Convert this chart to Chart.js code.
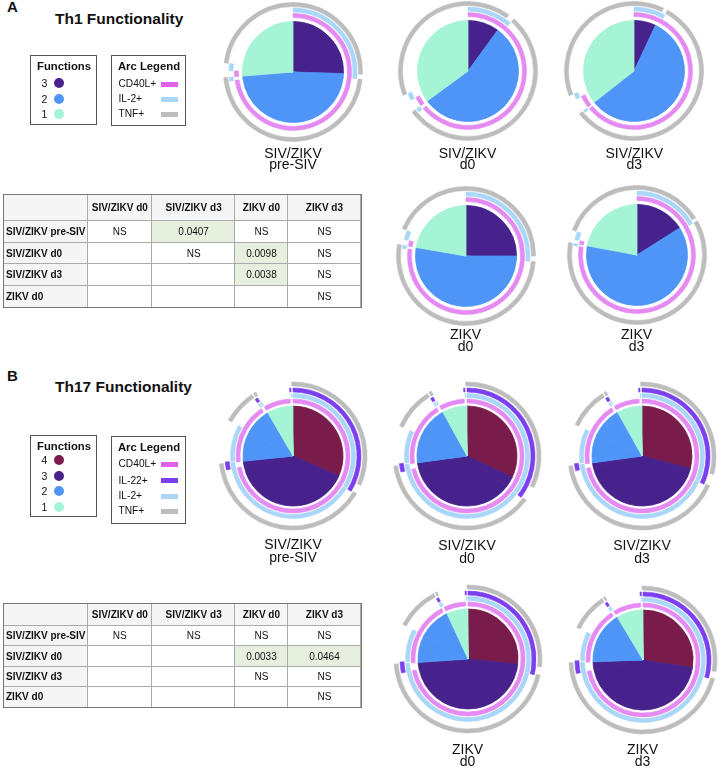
<!DOCTYPE html>
<html>
<head>
<meta charset="utf-8">
<script src="https://cdn.jsdelivr.net/npm/chart.js@4.4.1/dist/chart.umd.min.js"></script>
<style>
  body { margin: 0; background: #fff; }
  #page { position: relative; width: 720px; height: 768px; overflow: hidden; font-family: "Liberation Sans", Arial, sans-serif; color: #111; }
  #page div, #page canvas { position: absolute; box-sizing: border-box; }
</style>
</head>
<body>
<div id="page"></div>
<script>
// ---- data ----
var th1Markers = ['CD40L+', 'IL-2+', 'TNF+'];
var th1Combos = ['CD40L+IL-2+TNF+', 'CD40L+IL-2+', 'CD40L+TNF+', 'IL-2+TNF+', 'CD40L+', 'IL-2+', 'TNF+'];
var th1SivPre = [25.5, 1.2, 46.0, 1.0, 1.6, 1.8, 22.9];
var th1SivD0 = [10.0, 1.5, 52.4, 1.0, 2.6, 1.8, 30.7];
var th1SivD3 = [7.0, 1.0, 55.8, 0.6, 3.4, 1.4, 30.8];
var th1ZikvD0 = [25.0, 1.3, 50.6, 0.8, 1.5, 2.3, 18.5];
var th1ZikvD3 = [16.0, 0.8, 60.5, 0.6, 1.0, 2.0, 19.1];

var th17Markers = ['CD40L+', 'IL-22+', 'IL-2+', 'TNF+'];
var th17Combos = ['CD40L+IL-22+IL-2+TNF+',
  'CD40L+IL-22+IL-2+', 'CD40L+IL-22+TNF+', 'CD40L+IL-2+TNF+', 'IL-22+IL-2+TNF+',
  'CD40L+IL-22+', 'CD40L+IL-2+', 'CD40L+TNF+', 'IL-22+IL-2+', 'IL-22+TNF+', 'IL-2+TNF+',
  'CD40L+', 'IL-22+', 'IL-2+', 'TNF+'];
var th17SivPre = [31.5, 2.0, 0.2, 38.0, 1.6, 0.3, 9.5, 7.5, 0.4, 0.3, 0.3, 7.6, 0.3, 0.2, 0.3];
var th17SivD0 = [32.0, 3.2, 0.2, 35.8, 1.6, 0.4, 8.5, 9.3, 0.4, 0.3, 0.3, 7.2, 0.3, 0.2, 0.3];
var th17SivD3 = [29.0, 2.6, 0.2, 39.7, 1.3, 0.4, 8.8, 9.0, 0.4, 0.3, 0.2, 7.3, 0.3, 0.2, 0.3];
var th17ZikvD0 = [26.7, 1.8, 0.2, 43.0, 2.2, 0.4, 8.5, 9.5, 0.4, 0.2, 0.2, 6.2, 0.3, 0.2, 0.2];
var th17ZikvD3 = [27.5, 1.6, 0.2, 42.5, 2.6, 0.4, 7.5, 8.3, 0.4, 0.2, 0.2, 7.9, 0.3, 0.2, 0.2];

var sampleNames = [['SIV/ZIKV', 'pre-SIV'], ['SIV/ZIKV', 'd0'], ['SIV/ZIKV', 'd3'], ['ZIKV', 'd0'], ['ZIKV', 'd3']];

var tableCols = ['SIV/ZIKV d0', 'SIV/ZIKV d3', 'ZIKV d0', 'ZIKV d3'];
var tableRows = ['SIV/ZIKV pre-SIV', 'SIV/ZIKV d0', 'SIV/ZIKV d3', 'ZIKV d0'];
var th1PValues = [['NS', '0.0407', 'NS', 'NS'], ['', 'NS', '0.0098', 'NS'], ['', '', '0.0038', 'NS'], ['', '', '', 'NS']];
var th17PValues = [['NS', 'NS', 'NS', 'NS'], ['', '', '0.0033', '0.0464'], ['', '', 'NS', 'NS'], ['', '', '', 'NS']];

// ---- styles ----
var fnColors = {4: '#7a1c4b', 3: '#47218c', 2: '#4f95f8', 1: '#a6f4d6'};
var ringColors = {'CD40L+': '#e48af2', 'IL-22+': '#7b3ff0', 'IL-2+': '#a9d6f9', 'TNF+': '#bdbdbd'};
var swatchColors = {'CD40L+': '#e162ea', 'IL-22+': '#7b3ff0', 'IL-2+': '#a9d6f9', 'TNF+': '#bdbdbd'};
var CLEAR = 'rgba(0,0,0,0)';
var page = document.getElementById('page');

function el(tag, css, text) {
  var e = document.createElement(tag);
  e.style.cssText = css;
  if (text != null) e.textContent = text;
  page.appendChild(e);
  return e;
}

function textAt(txt, x, y, font, align) {
  var h = 16;
  if (align === 'left') {
    return el('div', 'left:' + x + 'px;top:' + (y - h / 2) + 'px;white-space:nowrap;font:' + font + ';line-height:' + h + 'px;height:' + h + 'px', txt);
  }
  return el('div', 'left:' + (x - 100) + 'px;top:' + (y - h / 2) + 'px;width:200px;text-align:center;white-space:nowrap;font:' + font + ';line-height:' + h + 'px;height:' + h + 'px', txt);
}

function tokens(combo) {
  return combo.match(/[^+]+\+/g);
}

function ringDataset(values, combos, marker, weight) {
  var colors = combos.map(function(c) {
    return tokens(c).indexOf(marker) >= 0 ? ringColors[marker] : CLEAR;
  });
  return {data: values, backgroundColor: colors, borderColor: colors, borderWidth: 0.6, weight: weight};
}

function spacer(weight) {
  return {data: [1], backgroundColor: [CLEAR], borderColor: [CLEAR], borderWidth: 0, weight: weight};
}

function drawPie(values, combos, geo, cx, cy) {
  var size = 170;
  var canvas = el('canvas', 'left:' + (cx - size / 2) + 'px;top:' + (cy - size / 2) + 'px');
  canvas.width = size;
  canvas.height = size;
  var datasets = [];
  // doughnut datasets go from the outside in
  geo.rings.forEach(function(m, i) {
    datasets.push(ringDataset(values, combos, m, geo.ringWidth));
    datasets.push(spacer(geo.gaps[i]));
  });
  var pieColors = combos.map(function(c) { return fnColors[tokens(c).length]; });
  datasets.push({data: values, backgroundColor: pieColors, borderColor: pieColors, borderWidth: 0.8, weight: geo.pie});
  new Chart(canvas, {
    type: 'doughnut',
    data: {labels: combos, datasets: datasets},
    options: {
      responsive: false,
      animation: false,
      events: [],
      cutout: 0,
      radius: geo.radius,
      plugins: {legend: {display: false}, tooltip: {enabled: false}}
    }
  });
}

function caption(lines, cx, y1, y2) {
  textAt(lines[0], cx, y1, '14px "Liberation Sans", Arial, sans-serif');
  textAt(lines[1], cx, y2, '14px "Liberation Sans", Arial, sans-serif');
}

function functionsLegend(levels, left, top, height, rowYs) {
  el('div', 'left:' + left + 'px;top:' + top + 'px;width:67px;height:' + height + 'px;border:1.5px solid #555');
  textAt('Functions', left + 34, top + 11, 'bold 11.3px "Liberation Sans", Arial, sans-serif');
  levels.forEach(function(lv, i) {
    textAt(String(lv), left + 14.3, rowYs[i], '10.5px "Liberation Sans", Arial, sans-serif');
    el('div', 'left:' + (left + 24) + 'px;top:' + (rowYs[i] - 5) + 'px;width:10px;height:10px;border-radius:5px;background:' + fnColors[lv]);
  });
}

function arcLegend(markers, left, top, height, rowYs) {
  el('div', 'left:' + left + 'px;top:' + top + 'px;width:75px;height:' + height + 'px;border:1.5px solid #555');
  textAt('Arc Legend', left + 38, top + 11, 'bold 11.3px "Liberation Sans", Arial, sans-serif');
  markers.forEach(function(m, i) {
    textAt(m, left + 7.5, rowYs[i], '10.2px "Liberation Sans", Arial, sans-serif', 'left');
    el('div', 'left:' + (left + 50) + 'px;top:' + (rowYs[i] - 2.5) + 'px;width:17px;height:5px;background:' + swatchColors[m]);
  });
}

function pTable(left, top, headerH, rowH, pvals) {
  var widths = [84.6, 64.4, 83.3, 52.3, 73.7];
  var total = widths.reduce(function(a, b) { return a + b; }, 0);
  var font = '10px "Liberation Sans", Arial, sans-serif';
  var bold = 'bold ' + font;
  var x = left;
  var xs = widths.map(function(w) { var v = x; x += w; return v; });
  // header row
  for (var c = 0; c < 5; c++) {
    el('div', 'left:' + xs[c] + 'px;top:' + top + 'px;width:' + widths[c] + 'px;height:' + headerH + 'px;background:#f5f5f5;border-right:1px solid #aaa;border-bottom:1px solid #aaa');
    if (c > 0) textAt(tableCols[c - 1], xs[c] + widths[c] / 2, top + headerH / 2, bold);
  }
  for (var r = 0; r < 4; r++) {
    var y = top + headerH + r * rowH;
    el('div', 'left:' + xs[0] + 'px;top:' + y + 'px;width:' + widths[0] + 'px;height:' + rowH + 'px;background:#f5f5f5;border-right:1px solid #aaa;border-bottom:1px solid #aaa');
    textAt(tableRows[r], xs[0] + 3, y + rowH / 2, bold, 'left');
    for (var k = 0; k < 4; k++) {
      var v = pvals[r][k];
      var sig = v !== '' && v !== 'NS' && parseFloat(v) < 0.05;
      el('div', 'left:' + xs[k + 1] + 'px;top:' + y + 'px;width:' + widths[k + 1] + 'px;height:' + rowH + 'px;background:' + (sig ? '#e7f0de' : '#fff') + ';border-right:1px solid #aaa;border-bottom:1px solid #aaa');
      if (v) textAt(v, xs[k + 1] + widths[k + 1] / 2, y + rowH / 2, font);
    }
  }
  el('div', 'left:' + (left - 0.5) + 'px;top:' + (top - 0.5) + 'px;width:' + (total + 1) + 'px;height:' + (headerH + 4 * rowH + 1) + 'px;border:1.5px solid #777');
}

// ---- panel A: Th1 ----
var th1Geo = {radius: 69.5, rings: ['TNF+', 'IL-2+', 'CD40L+'], ringWidth: 4, gaps: [1.5, 1.5, 4], pie: 50.5};
var th1Data = [th1SivPre, th1SivD0, th1SivD3, th1ZikvD0, th1ZikvD3];
var th1Centers = [[293, 71.5], [467.5, 71], [634.3, 71], [465.5, 255.5], [636.5, 254.5]];
var th1CapY = [[152.5, 164], [152.5, 164], [152.5, 164], [334, 345.7], [334, 345.7]];
th1Data.forEach(function(vals, i) {
  drawPie(vals, th1Combos, th1Geo, th1Centers[i][0], th1Centers[i][1]);
  caption(sampleNames[i], th1Centers[i][0], th1CapY[i][0], th1CapY[i][1]);
});

textAt('A', 7, 7, 'bold 15px "Liberation Sans", Arial, sans-serif', 'left');
textAt('Th1 Functionality', 55, 18.5, 'bold 15.5px "Liberation Sans", Arial, sans-serif', 'left');
functionsLegend([3, 2, 1], 30, 55, 70, [82.7, 98.7, 114]);
arcLegend(th1Markers, 111, 55, 71, [84, 99, 114]);
pTable(3, 194, 27, 21.7, th1PValues);

// ---- panel B: Th17 ----
var th17Geo = {radius: 74, rings: ['TNF+', 'IL-22+', 'IL-2+', 'CD40L+'], ringWidth: 4, gaps: [2, 1.5, 1.5, 3], pie: 50};
var th17Data = [th17SivPre, th17SivD0, th17SivD3, th17ZikvD0, th17ZikvD3];
var th17Centers = [[293, 456], [467, 456], [642, 456], [467.5, 659], [642.5, 660]];
var th17CapY = [[544, 557], [545, 558], [545, 558], [749, 761], [749, 761]];
th17Data.forEach(function(vals, i) {
  drawPie(vals, th17Combos, th17Geo, th17Centers[i][0], th17Centers[i][1]);
  caption(sampleNames[i], th17Centers[i][0], th17CapY[i][0], th17CapY[i][1]);
});

textAt('B', 7, 376, 'bold 15px "Liberation Sans", Arial, sans-serif', 'left');
textAt('Th17 Functionality', 55, 387, 'bold 15.5px "Liberation Sans", Arial, sans-serif', 'left');
functionsLegend([4, 3, 2, 1], 30, 435, 82, [460, 475.7, 491.3, 506.7]);
arcLegend(['CD40L+', 'IL-22+', 'IL-2+', 'TNF+'], 111, 436, 88, [464, 480.7, 496, 511]);
pTable(3, 603, 23, 20.4, th17PValues);
</script>
</body>
</html>
